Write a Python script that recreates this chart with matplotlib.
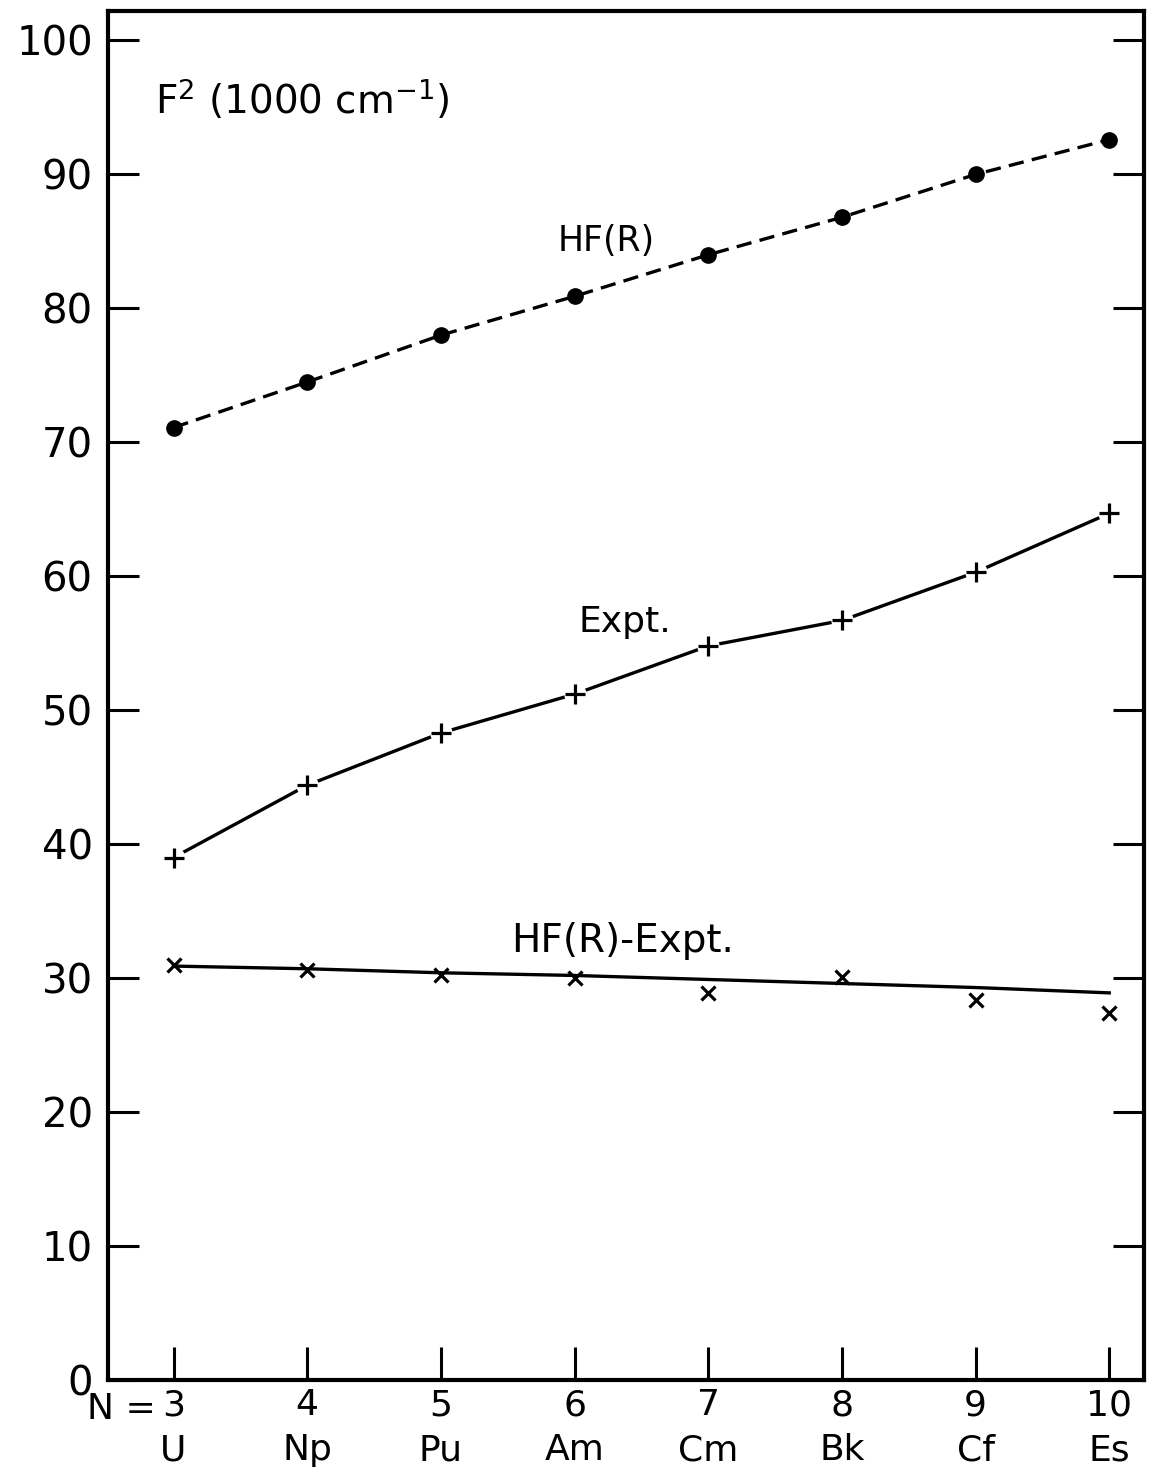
"""
F^2 Slater parameter along the actinide series: HF(R), experiment, and difference.
"""
import matplotlib
matplotlib.use("Agg")
import matplotlib.pyplot as plt

plt.rcParams['font.family'] = ['DejaVu Sans']
plt.rcParams['mathtext.fontset'] = 'dejavusans'

# data (units of 1000 cm^-1)
n_values = [3, 4, 5, 6, 7, 8, 9, 10]
elements = ["U", "Np", "Pu", "Am", "Cm", "Bk", "Cf", "Es"]
hf_r = [71.1, 74.5, 78.0, 80.9, 84.0, 86.8, 90.0, 92.6]
expt = [39.0, 44.4, 48.3, 51.2, 54.8, 56.7, 60.3, 64.7]
diff = [31.0, 30.6, 30.2, 30.0, 28.9, 30.1, 28.4, 27.4]
diff_line = [30.9, 30.7, 30.4, 30.2, 29.9, 29.6, 29.3, 28.9]

y_ticks = [0, 10, 20, 30, 40, 50, 60, 70, 80, 90, 100]

fig = plt.figure(figsize=(11.54, 14.74), dpi=100)
ax = fig.add_axes([108 / 1154, 1 - 1380 / 1474, 1036 / 1154, 1369 / 1474])

lw = 2.4
# HF(R): dashed line with filled dots
ax.plot(n_values, hf_r, color="black", lw=lw, dashes=(4.6, 2.5), zorder=2)
ax.plot(n_values, hf_r, "o", color="black", ms=11, zorder=4)

# Expt.: solid line, plus markers with small gaps around them
ax.plot(n_values, expt, color="black", lw=lw, zorder=2)
ax.plot(n_values, expt, "o", color="white", ms=16, mec="none", zorder=3)
ax.plot(n_values, expt, "+", color="black", ms=14, mew=2.3, zorder=4)

# HF(R)-Expt.: straight line through the x points
ax.plot(n_values, diff_line, color="black", lw=lw, zorder=2)
ax.plot(n_values, diff, "x", color="black", ms=10, mew=2.3, zorder=4)

ax.set_xlim(2.51, 10.26)
ax.set_ylim(0, 102.2)

ax.set_yticks(y_ticks)
ax.set_yticklabels([str(v) for v in y_ticks])
ax.set_xticks(n_values)
ax.set_xticklabels([f"{n}\n{el}" for n, el in zip(n_values, elements)],
                   linespacing=1.4)

ax.tick_params(axis="y", direction="in", length=22, width=2.2, labelsize=29,
               pad=11, left=True, right=True)
ax.tick_params(axis="x", direction="in", length=24, width=2.2, labelsize=26,
               pad=6, top=False)
for sp in ax.spines.values():
    sp.set_linewidth(3)

ax.text(2.86, 95.6, r"F$^2$ (1000 cm$^{-1}$)", fontsize=28, ha="left", va="center")
ax.text(6.24, 85.0, "HF(R)", fontsize=25, ha="center", va="center")
ax.text(6.38, 56.6, "Expt.", fontsize=26, ha="center", va="center")
ax.text(6.36, 32.8, "HF(R)-Expt.", fontsize=28, ha="center", va="center")
ax.text(2.87, -0.9, "N =", fontsize=26, ha="right", va="top")

fig.savefig("out.png", dpi=100)
plt.close(fig)
